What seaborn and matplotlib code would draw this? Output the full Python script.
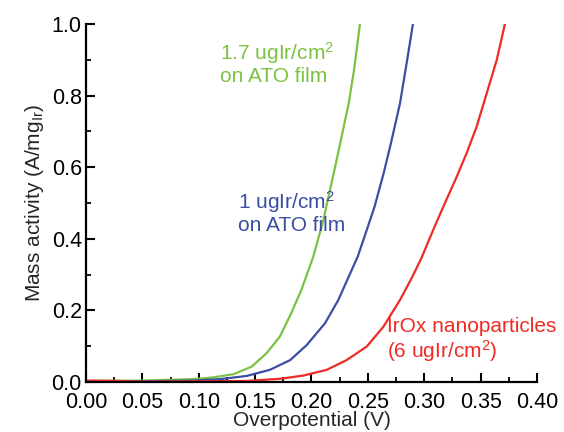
import matplotlib
matplotlib.use("Agg")
import matplotlib.pyplot as plt
import seaborn as sns
import pandas as pd
from matplotlib.ticker import MultipleLocator

# ---- data ----
green_x = [0.000, 0.050, 0.083, 0.095, 0.113, 0.131, 0.147, 0.160, 0.172, 0.182, 0.191,
           0.2016, 0.2105, 0.2164, 0.2223, 0.228, 0.2330, 0.2378, 0.243]
green_y = [0.003, 0.004, 0.007, 0.008, 0.013, 0.022, 0.043, 0.080, 0.127, 0.192, 0.257,
           0.350, 0.452, 0.536, 0.620, 0.704, 0.778, 0.872, 1.000]

blue_x = [0.000, 0.050, 0.095, 0.119, 0.1425, 0.163, 0.181, 0.1957, 0.212, 0.2238, 0.2330,
          0.2410, 0.2480, 0.2560, 0.2640, 0.2705, 0.2785, 0.2844, 0.290]
blue_y = [0.001, 0.002, 0.004, 0.008, 0.017, 0.034, 0.061, 0.103, 0.164, 0.229, 0.294,
          0.350, 0.415, 0.490, 0.583, 0.667, 0.778, 0.890, 1.000]

red_x = [0.000, 0.030, 0.050, 0.100, 0.1425, 0.172, 0.1927, 0.2135, 0.231, 0.249, 0.2637,
         0.2785, 0.2895, 0.2975, 0.308, 0.317, 0.3288, 0.3376, 0.3465, 0.3554, 0.3643, 0.3716]
red_y = [0.004, 0.003, 0.001, 0.002, 0.003, 0.009, 0.018, 0.034, 0.061, 0.099, 0.154,
         0.229, 0.294, 0.346, 0.425, 0.490, 0.573, 0.639, 0.713, 0.806, 0.899, 1.000]

series_names = ["1.7 ugIr/cm2 on ATO film", "1 ugIr/cm2 on ATO film", "IrOx nanoparticles"]
series_colors = ["#7cc242", "#3a4ea3", "#ee2b25"]
labels = ["1.7 ugIr/cm$^2$\non ATO film", "1 ugIr/cm$^2$\non ATO film",
          "IrOx nanoparticles\n(6 ugIr/cm$^2$)"]

xticks = [0.00, 0.05, 0.10, 0.15, 0.20, 0.25, 0.30, 0.35, 0.40]
yticks = [0.0, 0.2, 0.4, 0.6, 0.8, 1.0]

frames = []
for name, xs, ys in zip(series_names, [green_x, blue_x, red_x], [green_y, blue_y, red_y]):
    frames.append(pd.DataFrame({"x": xs, "y": ys, "series": name}))
df = pd.concat(frames, ignore_index=True)

sns.set_style("ticks")
plt.rcParams["font.family"] = ["Liberation Sans", "DejaVu Sans"]
plt.rcParams["mathtext.fontset"] = "custom"
plt.rcParams["mathtext.rm"] = "Liberation Sans"
plt.rcParams["mathtext.it"] = "Liberation Sans:italic"
plt.rcParams["mathtext.bf"] = "Liberation Sans:bold"

fig = plt.figure(figsize=(5.64, 4.32), dpi=100)
ax = fig.add_axes([0.1525, 0.1157, 0.7995, 0.8287])

sns.lineplot(data=df, x="x", y="y", hue="series", hue_order=series_names,
             palette=series_colors, ax=ax, legend=False, linewidth=1.6,
             sort=False, estimator=None)

ax.set_xlim(0, 0.40)
ax.set_ylim(0, 1.0)
ax.set_xticks(xticks)
ax.set_xticklabels([f"{v:.2f}" for v in xticks])
ax.set_yticks(yticks)
ax.set_yticklabels([f"{v:.1f}" for v in yticks])
ax.xaxis.set_minor_locator(MultipleLocator(0.025))
ax.yaxis.set_minor_locator(MultipleLocator(0.1))

for s in ["top", "right"]:
    ax.spines[s].set_visible(False)
for s in ["left", "bottom"]:
    ax.spines[s].set_linewidth(1.6)
    ax.spines[s].set_color("black")

ax.tick_params(which="major", direction="in", length=6.5, width=1.5, labelsize=15.5,
               colors="black")
ax.tick_params(which="minor", direction="in", length=3.5, width=1.3, colors="black")
ax.tick_params(axis="x", which="major", pad=7)
ax.tick_params(axis="y", which="major", pad=3)

ax.set_xlabel("Overpotential (V)", fontsize=15, labelpad=-1)
ax.set_ylabel("Mass activity (A/mg$_{\\mathregular{Ir}}$)", fontsize=15, labelpad=4)

text_pos = [(0.119, 0.891), (0.135, 0.475), (0.267, 0.115)]
for (tx, ty), lab, col in zip(text_pos, labels, series_colors):
    ax.text(tx, ty, lab, color=col, fontsize=15, ha="left", va="center",
            linespacing=1.1, multialignment="left")

fig.savefig("out.png", dpi=100)
